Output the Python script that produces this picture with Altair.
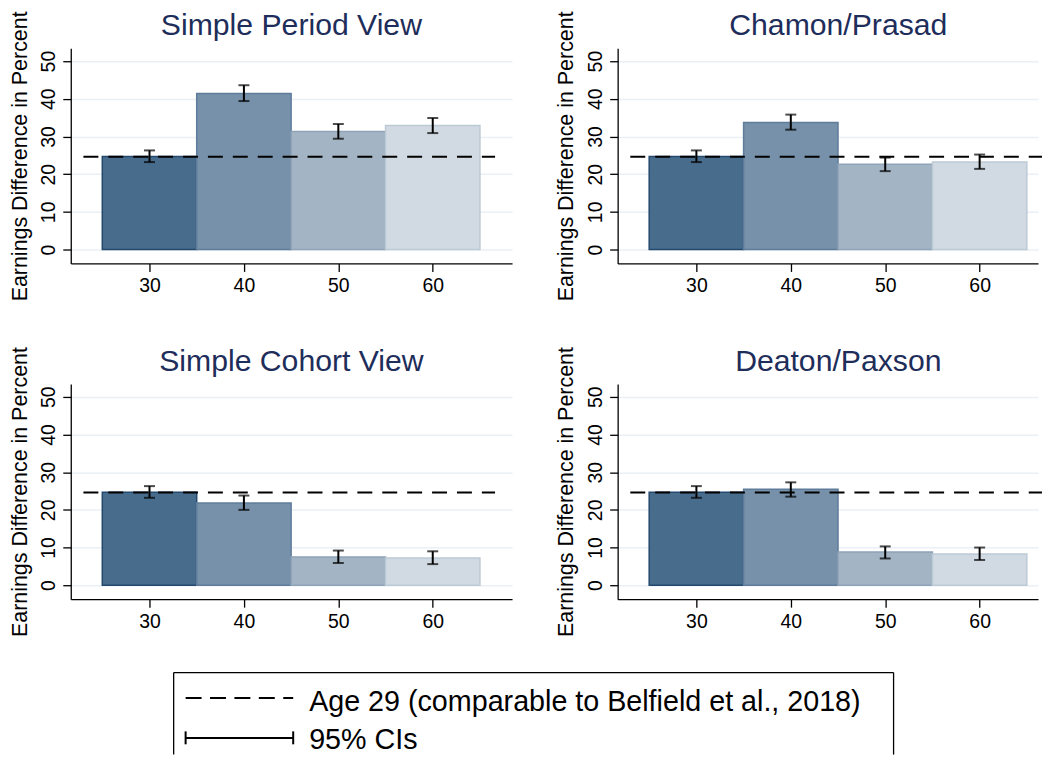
import altair as alt
import pandas as pd

# ---------------- data ----------------
AGES = [30, 40, 50, 60]
PANEL_TITLES = ["Simple Period View", "Chamon/Prasad", "Simple Cohort View", "Deaton/Paxson"]

EST_PERIOD = [24.7, 41.4, 31.3, 32.9]
LO_PERIOD = [23.2, 39.4, 29.4, 30.9]
HI_PERIOD = [26.3, 43.6, 33.3, 34.9]

EST_CHAMON = [24.7, 33.7, 22.6, 23.2]
LO_CHAMON = [23.2, 31.8, 20.8, 21.4]
HI_CHAMON = [26.3, 35.8, 24.4, 25.2]

EST_COHORT = [24.7, 21.8, 7.5, 7.2]
LO_COHORT = [23.2, 20.0, 5.9, 5.6]
HI_COHORT = [26.3, 23.8, 9.2, 9.0]

EST_DEATON = [24.7, 25.5, 8.8, 8.3]
LO_DEATON = [23.2, 23.5, 7.1, 6.7]
HI_DEATON = [26.3, 27.3, 10.3, 10.0]

REF_AGE29 = [24.6]
REF_X_START = [23.0]
REF_X_END = [66.6]

Y_TICKS = [0, 10, 20, 30, 40, 50]
Y_TITLE = "Earnings Difference in Percent"
LEGEND_LABELS = ["Age 29 (comparable to Belfield et al., 2018)", "95% CIs"]

# ---------------- styles ----------------
FONT = "Liberation Sans"
FILLS = ["#486c8c", "#7691a9", "#a3b5c5", "#d1dae2"]
STROKES = ["#24496e", "#5f7d9b", "#8ea3b8", "#bccad6"]
TITLE_COLOR = "#1e2d5a"
GRID_COLOR = "#eaf0f5"
X_MIN = 21.66
PX_PER_YEAR = 9.478
Y_DOMAIN = [-3.7, 53.4]
PH = 216
HALF_BAR = 5
TITLE_X = 221.5
TITLE_Y = -13.3
TITLE_SIZE = 30.3
LEGEND_SIZE = 28.8

one = alt.Data(values=[{"k": 0}])


def lrule(**kw):
    sw = kw.pop("sw", 2)
    dash = kw.pop("dash", None)
    m = {"color": "black", "strokeWidth": sw}
    if dash:
        m["strokeDash"] = dash
    return alt.Chart(one).mark_rule(**m).encode(**{k: alt.value(v) for k, v in kw.items()})


def legend_layers():
    # legend box drawn below the bottom-left panel (pixel offsets from its plot origin)
    LX, LY, LW, LBOT = 103.3, 289.7, 722.7, 372
    parts = [
        lrule(x=LX, x2=LX + LW, y=LY, sw=1.3),
        lrule(x=LX, y=LY, y2=LBOT, sw=1.3),
        lrule(x=LX + LW, y=LY, y2=LBOT, sw=1.3),
        lrule(x=LX + 12, x2=LX + 120, y=LY + 25.5, dash=[16, 8.5]),
        lrule(x=LX + 12, x2=LX + 120, y=LY + 65.6),
        lrule(x=LX + 12, y=LY + 59, y2=LY + 72),
        lrule(x=LX + 120, y=LY + 59, y2=LY + 72),
    ]
    for lab, yy in zip(LEGEND_LABELS, [LY + 39, LY + 76.6]):
        parts.append(
            alt.Chart(one).mark_text(align="left", baseline="alphabetic", fontSize=LEGEND_SIZE,
                                     font=FONT, color="black").encode(
                x=alt.value(LX + 136), y=alt.value(yy), text=alt.value(lab))
        )
    return parts


def panel(title, est, lo, hi, width, with_legend=False):
    df = pd.DataFrame({"age": AGES, "est": est, "lo": lo, "hi": hi})
    xs = alt.Scale(domain=[X_MIN, X_MIN + width / PX_PER_YEAR], nice=False, zero=False)
    ys = alt.Scale(domain=Y_DOMAIN, nice=False, zero=False)
    xaxis = alt.Axis(values=AGES, title=None, grid=False, labelFlush=False,
                     labelPadding=5)
    yaxis = alt.Axis(values=Y_TICKS, title=Y_TITLE, grid=True, labelAngle=270,
                     labelPadding=4.5, titlePadding=7.4)
    base = alt.Chart(df)
    bars = base.transform_calculate(
        x0=f"datum.age - {HALF_BAR}", x1=f"datum.age + {HALF_BAR}"
    ).mark_bar(strokeWidth=1.5).encode(
        x=alt.X("x0:Q", scale=xs, axis=xaxis),
        x2="x1:Q",
        y=alt.Y("est:Q", scale=ys, axis=yaxis),
        y2=alt.datum(0),
        fill=alt.Fill("age:N", scale=alt.Scale(domain=AGES, range=FILLS), legend=None),
        stroke=alt.Stroke("age:N", scale=alt.Scale(domain=AGES, range=STROKES), legend=None),
    )
    ref = alt.Chart(pd.DataFrame({"y": REF_AGE29, "xa": REF_X_START, "xb": REF_X_END})).mark_rule(
        color="black", strokeWidth=2, strokeDash=[15, 10]
    ).encode(
        x=alt.X("xa:Q", scale=xs, axis=xaxis),
        x2="xb:Q",
        y=alt.Y("y:Q", scale=ys, axis=yaxis),
    )
    whisk = base.mark_rule(color="black", strokeWidth=2).encode(
        x=alt.X("age:Q", scale=xs, axis=xaxis),
        y=alt.Y("lo:Q", scale=ys, axis=yaxis),
        y2="hi:Q",
    )
    caps = base.transform_fold(["lo", "hi"], as_=["k", "v"]).mark_tick(
        orient="horizontal", size=11, thickness=2, color="black"
    ).encode(
        x=alt.X("age:Q", scale=xs, axis=xaxis),
        y=alt.Y("v:Q", scale=ys, axis=yaxis),
    )
    ttl = alt.Chart(pd.DataFrame({"t": [title]})).mark_text(
        fontSize=TITLE_SIZE, font=FONT, color=TITLE_COLOR, align="center", baseline="alphabetic"
    ).encode(x=alt.value(TITLE_X), y=alt.value(TITLE_Y), text="t:N")
    layers = [bars, ref, whisk, caps, ttl]
    if with_legend:
        layers += legend_layers()
    return alt.layer(*layers).properties(width=width, height=PH)


p1 = panel(PANEL_TITLES[0], EST_PERIOD, LO_PERIOD, HI_PERIOD, 443)
p2 = panel(PANEL_TITLES[1], EST_CHAMON, LO_CHAMON, HI_CHAMON, 422)
p3 = panel(PANEL_TITLES[2], EST_COHORT, LO_COHORT, HI_COHORT, 443, with_legend=True)
p4 = panel(PANEL_TITLES[3], EST_DEATON, LO_DEATON, HI_DEATON, 422)

chart = alt.concat(
    p1, p2, p3, p4, columns=2, spacing={"row": 121, "column": 106}, bounds="flush"
).properties(
    padding=0, background="white"
).configure(font=FONT).configure_view(stroke="transparent").configure_axis(
    domainColor="black", domainWidth=1.3, tickColor="black", tickWidth=1.3, tickSize=8,
    labelColor="black", labelFontSize=19.5, labelFont=FONT,
    titleColor="black", titleFontSize=21.5, titleFontWeight="normal", titleFont=FONT,
    gridColor=GRID_COLOR, gridWidth=1.5,
)

chart.save("out.html", embed_options={"renderer": "svg", "actions": False})
